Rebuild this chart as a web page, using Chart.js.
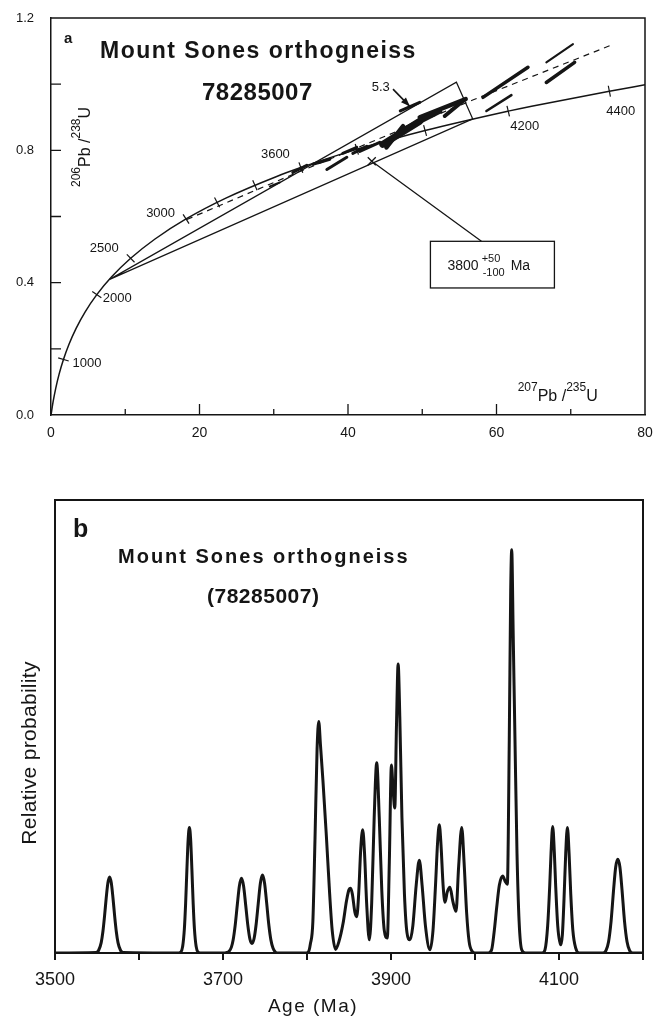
<!DOCTYPE html>
<html>
<head>
<meta charset="utf-8">
<script src="https://cdn.jsdelivr.net/npm/chart.js@4.4.1/dist/chart.umd.min.js"></script>
<style>
  html, body { margin: 0; padding: 0; background: #fff; }
  #wrap { position: relative; width: 668px; height: 1019px; }
  canvas { position: absolute; left: 0; }
  #ca { top: 0; }
  #cb { top: 480px; }
</style>
</head>
<body>
<div id="wrap">
  <canvas id="ca" width="668" height="450"></canvas>
  <canvas id="cb" width="668" height="539"></canvas>
</div>
<script>
const FONT = "'Liberation Sans', Arial, Helvetica, sans-serif"
const INK = "#151515"

// ---- panel a : concordia diagram (207Pb/235U vs 206Pb/238U) ----
const concordiaX = [0, 0.279, 0.636, 1.093, 1.677, 2.425, 3.382, 4.604, 6.169, 8.170, 10.73, 14.01, 18.19, 23.55, 30.40, 33.65, 39.17, 41.19, 50.38, 61.58, 64.73, 75.20, 80.0]
const concordiaY = [0, 0.0395, 0.0807, 0.1234, 0.1678, 0.2140, 0.2620, 0.3119, 0.3638, 0.4177, 0.4737, 0.5320, 0.5926, 0.6556, 0.7211, 0.7479, 0.7892, 0.8031, 0.8599, 0.9185, 0.9335, 0.9789, 0.998]

// age marks on the concordia
const ageTickLabels = ["1000", "2000", "2500", "3000", "3200", "3400", "3600", "3800", "4000", "4200", "4400"]
const ageTickX = [1.677, 6.169, 10.73, 18.19, 22.37, 27.46, 33.65, 41.19, 50.38, 61.58, 75.20]
const ageTickY = [0.1678, 0.3638, 0.4737, 0.5926, 0.6428, 0.6945, 0.7479, 0.8031, 0.8599, 0.9185, 0.9789]
const labelledAges = ["1000", "2000", "2500", "3000", "3600", "4200", "4400"]

// discordia wedge: lower intercept -> corner -> upper intercept -> lower intercept
const wedgeX = [7.9, 54.6, 56.8, 7.9]
const wedgeY = [0.41, 1.006, 0.895, 0.41]

// dashed reference line
const refLineX = [18.3, 33.5, 56.8, 75.8]
const refLineY = [0.591, 0.736, 0.952, 1.121]

// error ellipses (long axis end points)
const ellipseX1 = [66.71, 66.71, 58.18, 58.64, 53.03, 47.04, 44.68, 47.04, 49.66, 45.18, 41.59, 40.65, 39.30, 37.15, 35.26, 32.57, 29.48]
const ellipseY1 = [1.066, 1.005, 0.960, 0.919, 0.904, 0.919, 0.818, 0.858, 0.900, 0.809, 0.797, 0.791, 0.791, 0.742, 0.758, 0.733, 0.691]
const ellipseX2 = [70.30, 70.52, 64.24, 62.01, 55.49, 49.66, 49.66, 52.36, 55.85, 47.42, 44.28, 42.53, 41.18, 39.84, 37.55, 34.45, 30.82]
const ellipseY2 = [1.121, 1.066, 1.051, 0.967, 0.949, 0.945, 0.888, 0.918, 0.955, 0.873, 0.824, 0.812, 0.809, 0.779, 0.773, 0.755, 0.703]

const xTicksA = [0, 20, 40, 60, 80]
const yTicksA = [0, 0.4, 0.8, 1.2]

// ---- panel b : relative probability vs age ----
const ages = [
  3500, 3549, 3552, 3555, 3557, 3559, 3561, 3563, 3565, 3567, 3569, 3571, 3573, 3575, 3578, 3581,
  3646, 3649, 3652, 3654, 3655.5, 3657, 3658.5, 3660, 3661.5, 3663, 3664.5, 3666, 3668, 3671, 3674,
  3701, 3704, 3707, 3710, 3712, 3714.5, 3717, 3719.5, 3722, 3724.5, 3727, 3729.5, 3732, 3734.5, 3737, 3739.5, 3742, 3744.5, 3747, 3749.5, 3752, 3754.5, 3757, 3759.5, 3762, 3765,
  3798, 3801.5, 3804, 3807, 3809.5, 3812, 3814, 3816, 3819, 3823, 3827, 3830, 3834,
  3838, 3843, 3847, 3850, 3852, 3854, 3857, 3859.2, 3861.5, 3864, 3866.3, 3868.5, 3871, 3874.2, 3877, 3880, 3883, 3886, 3889, 3892, 3895.6, 3898, 3900.5, 3902.5, 3904.5, 3906.5, 3908.5, 3910.5, 3913, 3916, 3919, 3922.6,
  3926, 3930, 3933.7, 3937, 3941, 3946.4, 3950, 3953, 3955.5, 3957.5, 3959.5, 3962, 3964.3, 3967, 3970.2, 3973.5, 3977.4, 3980.5, 3984.2, 3987, 3990, 3993, 3996.5, 4000,
  4016, 4019.8, 4023, 4025.8, 4029, 4033, 4036, 4038.5, 4040.8, 4042.5, 4043.7, 4045.5, 4047.6, 4050, 4052.5, 4055.6, 4060,
  4080, 4083.3, 4086.5, 4089, 4090.5, 4092.5, 4094.5, 4096, 4098.5, 4102, 4104, 4106, 4108, 4110, 4112, 4114, 4116.5, 4120, 4124,
  4152, 4156, 4159, 4162, 4165, 4167.5, 4170, 4172.5, 4175, 4178, 4181, 4184, 4188, 4200
]
const probability = [
  0, 0.001, 0.006, 0.023, 0.047, 0.082, 0.122, 0.155, 0.168, 0.155, 0.122, 0.082, 0.047, 0.023, 0.006, 0.001,
  0, 0.001, 0.015, 0.053, 0.109, 0.183, 0.250, 0.277, 0.250, 0.183, 0.109, 0.053, 0.015, 0.001, 0,
  0, 0.001, 0.003, 0.013, 0.028, 0.061, 0.106, 0.148, 0.165, 0.148, 0.106, 0.062, 0.031, 0.021, 0.032, 0.064, 0.110, 0.154, 0.172, 0.154, 0.110, 0.063, 0.029, 0.011, 0.003, 0,
  0, 0.002, 0.02, 0.07, 0.25, 0.45, 0.511, 0.46, 0.38, 0.26, 0.13, 0.05, 0.008,
  0.025, 0.066, 0.115, 0.14, 0.143, 0.13, 0.09, 0.08, 0.13, 0.23, 0.272, 0.22, 0.11, 0.029, 0.11, 0.3, 0.42, 0.3, 0.14, 0.05, 0.033, 0.2, 0.415, 0.36, 0.32, 0.5, 0.638, 0.52, 0.3, 0.13, 0.045, 0.029,
  0.06, 0.15, 0.205, 0.15, 0.06, 0.007, 0.05, 0.15, 0.245, 0.283, 0.24, 0.15, 0.112, 0.135, 0.145, 0.115, 0.092, 0.19, 0.277, 0.2, 0.09, 0.025, 0.004, 0,
  0, 0.007, 0.05, 0.10, 0.15, 0.17, 0.158, 0.152, 0.47, 0.8, 0.89, 0.7, 0.47, 0.22, 0.07, 0.007, 0,
  0, 0.007, 0.06, 0.15, 0.22, 0.279, 0.22, 0.15, 0.06, 0.018, 0.04, 0.12, 0.22, 0.277, 0.22, 0.13, 0.05, 0.01, 0,
  0, 0.006, 0.025, 0.07, 0.14, 0.19, 0.207, 0.19, 0.14, 0.07, 0.025, 0.006, 0, 0
]
const ageAxisTicks = [3500, 3600, 3700, 3800, 3900, 4000, 4100, 4200]
const ageAxisLabels = [3500, 3700, 3900, 4100]

// styles kept apart from the data
const ellipseWidthPx = [2, 3.5, 3.5, 2.5, 4, 3, 7, 5, 4.5, 4.5, 3, 3, 3, 3, 3, 3, 2]
const ageLabelOffset = {
  "1000": [9, 4, "left"],
  "2000": [6, 4, "left"],
  "2500": [-12, -10, "right"],
  "3000": [-11, -6, "right"],
  "3600": [-11, -13, "right"],
  "4200": [2, 15, "left"],
  "4400": [-3, 20, "left"]
}

function pts(xs, ys) {
  return xs.map((v, i) => ({ x: v, y: ys[i] }))
}

// draws text made of normal and raised parts, returns end x
function drawParts(ctx, parts, x, y) {
  let cx = x
  parts.forEach(p => {
    ctx.font = p.size + "px " + FONT
    ctx.fillText(p.t, cx, y - (p.rise || 0))
    cx += ctx.measureText(p.t).width
  })
  return cx
}

function arrowHead(ctx, x0, y0, x1, y1, len, half) {
  const a = Math.atan2(y1 - y0, x1 - x0)
  ctx.beginPath()
  ctx.moveTo(x1, y1)
  ctx.lineTo(x1 - len * Math.cos(a) + half * Math.sin(a), y1 - len * Math.sin(a) - half * Math.cos(a))
  ctx.lineTo(x1 - len * Math.cos(a) - half * Math.sin(a), y1 - len * Math.sin(a) + half * Math.cos(a))
  ctx.closePath()
  ctx.fill()
}

const panelA = {
  id: "panelA",
  afterDatasetsDraw(chart) {
    const { ctx, chartArea: a, scales: { x, y } } = chart
    const P = (vx, vy) => [x.getPixelForValue(vx), y.getPixelForValue(vy)]
    ctx.save()
    ctx.strokeStyle = INK
    ctx.fillStyle = INK
    ctx.lineCap = "butt"

    // top and right frame
    ctx.lineWidth = 1.5
    ctx.beginPath()
    ctx.moveTo(a.left, a.top)
    ctx.lineTo(a.right, a.top)
    ctx.lineTo(a.right, a.bottom)
    ctx.stroke()

    // inward ticks
    ctx.lineWidth = 1.3
    ctx.beginPath()
    for (let v = 10; v < 80; v += 10) {
      const px = x.getPixelForValue(v)
      const len = v % 20 === 0 ? 11 : 6
      ctx.moveTo(px, a.bottom)
      ctx.lineTo(px, a.bottom - len)
    }
    for (let v = 0.2; v < 1.19; v += 0.2) {
      const py = y.getPixelForValue(v)
      ctx.moveTo(a.left, py)
      ctx.lineTo(a.left + 10, py)
    }
    ctx.stroke()

    // age ticks across the concordia
    ctx.lineWidth = 1.2
    ageTickX.forEach((tx, i) => {
      let k = 0
      while (k < concordiaX.length - 2 && concordiaX[k + 1] < tx) k++
      const p0 = P(concordiaX[k], concordiaY[k])
      const p1 = P(concordiaX[k + 1], concordiaY[k + 1])
      const dx = p1[0] - p0[0], dy = p1[1] - p0[1]
      const l = Math.hypot(dx, dy)
      const nx = -dy / l, ny = dx / l
      const c = P(tx, ageTickY[i])
      ctx.beginPath()
      ctx.moveTo(c[0] - nx * 5.5, c[1] - ny * 5.5)
      ctx.lineTo(c[0] + nx * 5.5, c[1] + ny * 5.5)
      ctx.stroke()
      const lab = ageTickLabels[i]
      if (labelledAges.includes(lab)) {
        const o = ageLabelOffset[lab]
        ctx.font = "13px " + FONT
        ctx.textAlign = o[2]
        ctx.textBaseline = "middle"
        ctx.fillText(lab, c[0] + o[0], c[1] + o[1])
      }
    })
    ctx.textAlign = "left"
    ctx.textBaseline = "alphabetic"

    // "5.3" with arrow
    let p = P(43.2, 0.979)
    ctx.font = "13px " + FONT
    ctx.fillText("5.3", p[0], p[1])
    const a0 = P(46.06, 0.985), a1 = P(48.32, 0.933)
    ctx.lineWidth = 1.6
    ctx.beginPath()
    ctx.moveTo(a0[0], a0[1])
    ctx.lineTo(a1[0], a1[1])
    ctx.stroke()
    arrowHead(ctx, a0[0], a0[1], a1[0], a1[1], 9, 3.5)

    // age box with leader line
    const b0 = P(51.1, 0.525), b1 = P(67.8, 0.384)
    ctx.lineWidth = 1.3
    ctx.strokeRect(b0[0], b0[1], b1[0] - b0[0], b1[1] - b0[1])
    const l0 = P(57.97, 0.525), l1 = P(43.2, 0.767)
    ctx.beginPath()
    ctx.moveTo(l0[0], l0[1])
    ctx.lineTo(l1[0], l1[1])
    ctx.moveTo(l1[0] - 4, l1[1] - 4)
    ctx.lineTo(l1[0] + 4, l1[1] + 4)
    ctx.moveTo(l1[0] - 4, l1[1] + 4)
    ctx.lineTo(l1[0] + 4, l1[1] - 4)
    ctx.stroke()
    p = P(53.4, 0.439)
    ctx.font = "14px " + FONT
    ctx.fillText("3800", p[0], p[1])
    const ex = p[0] + ctx.measureText("3800").width + 3
    ctx.font = "11px " + FONT
    ctx.fillText("+50", ex, p[1] - 8)
    ctx.fillText("-100", ex + 1, p[1] + 6)
    ctx.font = "14px " + FONT
    ctx.fillText("Ma", ex + 29, p[1])

    // axis titles with isotopes
    p = P(62.85, 0.042)
    drawParts(ctx, [
      { t: "207", size: 12, rise: 10 },
      { t: "Pb /", size: 16 },
      { t: "235", size: 12, rise: 10 },
      { t: "U", size: 16 }
    ], p[0], p[1])
    ctx.save()
    ctx.translate(90, 187)
    ctx.rotate(-Math.PI / 2)
    drawParts(ctx, [
      { t: "206", size: 12, rise: 10 },
      { t: "Pb /", size: 16 },
      { t: "238", size: 12, rise: 10 },
      { t: "U", size: 16 }
    ], 0, 0)
    ctx.restore()

    // panel letter and titles
    ctx.font = "bold 15px " + FONT
    ctx.fillText("a", 64, 43)
    ctx.font = "bold 23px " + FONT
    ctx.letterSpacing = "1.5px"
    ctx.fillText("Mount Sones orthogneiss", 100, 58)
    ctx.font = "bold 24px " + FONT
    ctx.letterSpacing = "0.5px"
    ctx.fillText("78285007", 202, 100)
    ctx.letterSpacing = "0px"
    ctx.restore()
  }
}

const panelB = {
  id: "panelB",
  afterDatasetsDraw(chart) {
    const { ctx, chartArea: a } = chart
    ctx.save()
    ctx.strokeStyle = INK
    ctx.fillStyle = INK
    ctx.lineWidth = 2
    ctx.beginPath()
    ctx.moveTo(a.left, a.top)
    ctx.lineTo(a.right, a.top)
    ctx.lineTo(a.right, a.bottom)
    ctx.stroke()

    ctx.font = "bold 25px " + FONT
    ctx.fillText("b", 73, 57)
    ctx.font = "bold 20px " + FONT
    ctx.letterSpacing = "2px"
    ctx.fillText("Mount Sones orthogneiss", 118, 83)
    ctx.font = "bold 21px " + FONT
    ctx.letterSpacing = "0.5px"
    ctx.fillText("(78285007)", 207, 123)

    ctx.font = "19px " + FONT
    ctx.letterSpacing = "1.5px"
    ctx.textAlign = "center"
    ctx.fillText("Age (Ma)", 313, 532)

    ctx.save()
    ctx.translate(36, 273)
    ctx.rotate(-Math.PI / 2)
    ctx.font = "21px " + FONT
    ctx.letterSpacing = "0.3px"
    ctx.fillText("Relative probability", 0, 0)
    ctx.restore()
    ctx.letterSpacing = "0px"
    ctx.restore()
  }
}

const baseLine = { showLine: true, pointRadius: 0, borderColor: INK, fill: false, tension: 0 }

const datasetsA = [
  Object.assign({}, baseLine, { data: pts(concordiaX, concordiaY), borderWidth: 1.5, cubicInterpolationMode: "monotone" }),
  Object.assign({}, baseLine, { data: pts(wedgeX, wedgeY), borderWidth: 1.2 }),
  Object.assign({}, baseLine, { data: pts(refLineX, refLineY), borderWidth: 1.2, borderDash: [6, 5] })
]
ellipseX1.forEach((v, i) => {
  datasetsA.push(Object.assign({}, baseLine, {
    data: [{ x: v, y: ellipseY1[i] }, { x: ellipseX2[i], y: ellipseY2[i] }],
    borderWidth: ellipseWidthPx[i],
    borderCapStyle: "round"
  }))
})

new Chart(document.getElementById("ca"), {
  type: "scatter",
  data: { datasets: datasetsA },
  options: {
    responsive: false,
    animation: false,
    events: [],
    plugins: { legend: { display: false }, tooltip: { enabled: false } },
    layout: { autoPadding: false, padding: { top: 18, right: 23, left: 0, bottom: 0 } },
    scales: {
      x: {
        type: "linear",
        min: 0,
        max: 80,
        afterFit: s => { s.height = 35; s.paddingLeft = 0; s.paddingRight = 0 },
        afterBuildTicks: s => { s.ticks = xTicksA.map(v => ({ value: v })) },
        grid: { display: false, drawTicks: false },
        border: { display: true, color: INK, width: 1.5 },
        ticks: { color: INK, padding: 10, font: { family: FONT, size: 14 } }
      },
      y: {
        type: "linear",
        min: 0,
        max: 1.2,
        afterFit: s => { s.width = 51; s.paddingTop = 0; s.paddingBottom = 0 },
        afterBuildTicks: s => { s.ticks = yTicksA.map(v => ({ value: v })) },
        grid: { display: false, drawTicks: false },
        border: { display: true, color: INK, width: 1.5 },
        ticks: { color: INK, padding: 17, font: { family: FONT, size: 13 }, callback: v => v.toFixed(1) }
      }
    }
  },
  plugins: [panelA]
})

new Chart(document.getElementById("cb"), {
  type: "scatter",
  data: {
    datasets: [Object.assign({}, baseLine, {
      data: pts(ages, probability),
      borderWidth: 3,
      cubicInterpolationMode: "monotone"
    })]
  },
  options: {
    responsive: false,
    animation: false,
    events: [],
    plugins: { legend: { display: false }, tooltip: { enabled: false } },
    layout: { autoPadding: false, padding: { top: 20, right: 25, left: 0, bottom: 0 } },
    scales: {
      x: {
        type: "linear",
        min: 3500,
        max: 4200,
        afterFit: s => { s.height = 66 },
        afterBuildTicks: s => { s.ticks = ageAxisTicks.map(v => ({ value: v })) },
        grid: { display: true, drawOnChartArea: false, drawTicks: true, tickLength: 7, color: INK, lineWidth: 2 },
        border: { display: true, color: INK, width: 2 },
        ticks: {
          color: INK,
          padding: 9,
          font: { family: FONT, size: 18 },
          callback: v => ageAxisLabels.includes(v) ? String(v) : ""
        }
      },
      y: {
        type: "linear",
        min: 0,
        max: 1,
        afterFit: s => { s.width = 55 },
        grid: { display: false },
        border: { display: true, color: INK, width: 2 },
        ticks: { display: false }
      }
    }
  },
  plugins: [panelB]
})
</script>
</body>
</html>
